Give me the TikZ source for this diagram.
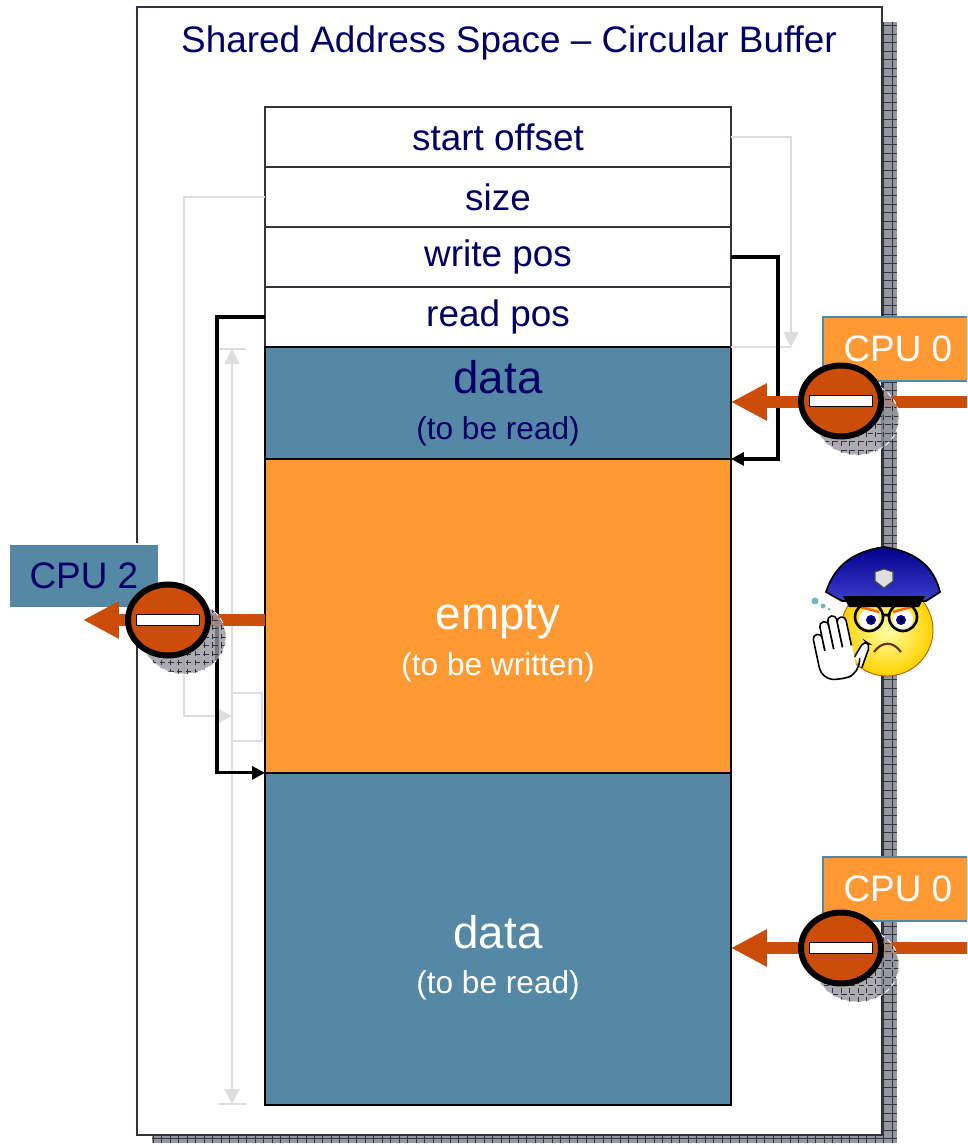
\documentclass[tikz,border=0pt]{standalone}
\usepackage{fontspec}
\setmainfont{Liberation Sans}
\usetikzlibrary{positioning,arrows.meta,shapes.geometric}

\definecolor{navy}{RGB}{0,0,102}
\definecolor{steel}{RGB}{84,136,165}
\definecolor{amber}{RGB}{255,153,51}
\definecolor{rust}{RGB}{204,76,10}
\definecolor{framec}{RGB}{50,50,64}
\definecolor{pale}{RGB}{221,221,221}
\definecolor{shadowc}{RGB}{150,150,158}

\newcommand{\blocktitle}{\fontsize{26}{30}\selectfont}
\newcommand{\blocknote}{\fontsize{18}{22}\selectfont}
\newcommand{\cellfont}{\fontsize{21}{25}\selectfont}

\tikzset{
  hatch/.style={fill=shadowc, path picture={
      \draw[framec, line width=0.5pt, step=0.17cm]
        (path picture bounding box.south west) grid (path picture bounding box.north east);}},
  cell/.style={draw=framec, fill=white, line width=1.2pt, minimum width=9.32cm, minimum height=1.2cm,
    inner sep=0pt, outer sep=0pt, text=navy, font=\cellfont},
  block/.style={draw=black, line width=1.2pt, minimum width=9.32cm, inner sep=0pt, outer sep=0pt},
  blocktext/.style={align=center, font=\blocknote, inner sep=0pt},
  wire/.style={draw=black, line width=1.8pt, -{Triangle[length=2.6mm,width=2.6mm]}},
  guide/.style={draw=pale, line width=1.1pt},
  ray/.style={draw=rust, line width=6.8pt, -{Triangle[length=7.2mm,width=7mm]}},
  stopsign/.style={ellipse, draw=black, fill=rust, line width=3.4pt, minimum width=1.6cm, minimum height=1.42cm, inner sep=0pt},
  stopbar/.style={rectangle, draw=black, fill=white, line width=0.8pt, minimum width=1.26cm, minimum height=0.22cm, inner sep=0pt},
  cpubox/.style={minimum width=3cm, minimum height=1.28cm, inner sep=0pt, font=\cellfont}
}

\begin{document}
\begin{tikzpicture}[x=0.02cm, y=-0.02cm]
  \useasboundingbox (0,0) rectangle (967,1145);
  \clip (0,0) rectangle (967,1145);

  % frame with its hatched shadow
  \fill[hatch] (152,22) rectangle (897,1143);
  \draw[draw=framec, fill=white, line width=1.1pt] (137,7) rectangle (882,1135);
  \node[text=navy, font=\cellfont] (title) at (509,43) {Shared Address Space \textendash{} Circular Buffer};

  % header cells and buffer
  \node[cell] (start) at (498,137) {start offset};
  \node[cell, below=0pt of start] (size) {size};
  \node[cell, below=0pt of size] (write) {write pos};
  \node[cell, below=0pt of write] (read) {read pos};
  \node[block, fill=steel, minimum height=2.24cm, below=0pt of read] (data1) {};
  \node[block, fill=amber, minimum height=6.28cm, below=0pt of data1] (empty) {};
  \node[block, fill=steel, minimum height=6.64cm, below=0pt of empty] (data2) {};
  \node[blocktext, text=navy] (data1text) at (data1) {{\blocktitle data}\\[4pt](to be read)};
  \node[blocktext, text=white, yshift=-0.5cm] (emptytext) at (empty) {{\blocktitle empty}\\[4pt](to be written)};
  \node[blocktext, text=white, yshift=-0.38cm] (data2text) at (data2) {{\blocktitle data}\\[4pt](to be read)};

  % grey guides
  \coordinate (offtip) at (791,347);
  \coordinate (sizetip) at (232,716);
  \coordinate (spantop) at (232,349);
  \coordinate (spanbot) at (232,1104);
  \draw[guide, -{Triangle[length=3mm,width=3mm]}] (start.east) -| (offtip);
  \draw[guide] (data1.north east) -- (offtip);
  \draw[guide, -{Triangle[length=3mm,width=3mm]}] (size.west) -- ++(-81,0) |- (sizetip);
  \draw[guide] (232,693) rectangle (262,741);
  \draw[guide, {Triangle[length=3mm,width=3mm]}-{Triangle[length=3mm,width=3mm]}] (spantop) -- (spanbot);
  \draw[guide] (219,349) -- (246,349);
  \draw[guide] (219,1104) -- (246,1104);

  % pointers
  \draw[wire] (write.east) -- ++(47,0) |- (data1.south east);
  \draw[wire] (read.west) -- ++(-48,0) |- (empty.south west);

  % processors
  \node[cpubox, fill=amber, draw=steel, line width=1pt, text=white, anchor=north west] (cpuA) at (822,316) {CPU 0};
  \node[cpubox, fill=amber, draw=steel, line width=1pt, text=white, anchor=north west] (cpuB) at (822,856) {CPU 0};
  \node[cpubox, fill=steel, draw=white, line width=1pt, text=navy, anchor=north west] (cpuC) at (8,543) {CPU 2};

  \coordinate (inA) at (970,402);
  \coordinate (inB) at (970,948);
  \coordinate (outC) at (83,620);
  \draw[ray] (inA) -- (data1.east |- inA);
  \draw[ray] (inB) -- (data2.east |- inB);
  \draw[ray] (empty.west |- outC) -- (outC);

  \foreach \name/\px/\py in {stopA/841/401, stopB/841/948, stopC/168/620}{
    \path[hatch, fill opacity=0.8, draw=white, densely dashed, line width=0.5pt] (\px+16,\py+17) ellipse [x radius=42, y radius=37];
    \node[stopsign] (\name) at (\px,\py) {};
    \node[stopbar] (\name bar) at (\name) {};
  }

  % officer
  \shadedraw[inner color=yellow!35!white, outer color=orange!35!yellow, draw=orange!70!black, line width=0.5pt]
    (887,630) circle [radius=46];
  \fill[white] (869,619) circle [radius=10] (903,619) circle [radius=10];
  \fill[blue!60!black] (871,620) circle [radius=5] (901,620) circle [radius=5];
  \fill[black] (871,620) circle [radius=2] (901,620) circle [radius=2];
  \draw[orange!80!red, line width=1.4pt] (857,606) -- (879,612) (893,612) -- (915,606);
  \draw[line width=1.5pt] (869,617) circle [radius=14] (903,617) circle [radius=14] (883,615) -- (889,615);
  \draw[orange!40!black, line width=1.2pt] (874,652) .. controls (882,641) and (893,641) .. (901,652);
  \shadedraw[top color=blue!55!black, bottom color=blue!70!white!80!black, draw=black, line width=1pt]
    (826,592) .. controls (834,568) and (850,552) .. (884,547) .. controls (918,552) and (934,568) .. (940,592)
    -- (926,601) -- (842,601) -- cycle;
  \fill[black] (843,596) -- (925,596) -- (919,607) -- (849,607) -- cycle;
  \filldraw[fill=gray!25, draw=gray!60!black, line width=0.6pt]
    (884,569) -- (893,572) -- (893,581) -- (884,588) -- (875,581) -- (875,572) -- cycle;
  \fill[teal!55] (815,601) circle [radius=3.5] (823,606) circle [radius=2.5] (829,609) circle [radius=1.5];
  \begin{scope}[shift={(840,652)}, rotate=12]
    \foreach \fx/\fh in {-19/22, -10/33, -1/37, 8/34}{
      \draw[fill=white, line width=0.9pt, rounded corners=2.5pt] (\fx-4.5,0) rectangle (\fx+4.5,-\fh);
    }
    \draw[fill=white, line width=0.9pt, rounded corners=3pt] (13,8) -- (26,-6) -- (31,-1) -- (18,20);
    \fill[white] (-23.3,-4) rectangle (13,24);
    \draw[line width=0.9pt, rounded corners=6pt] (-23.5,-4) -- (-23.5,22) -- (-4,28) -- (14,24) -- (18,10);
  \end{scope}
\end{tikzpicture}
\end{document}
